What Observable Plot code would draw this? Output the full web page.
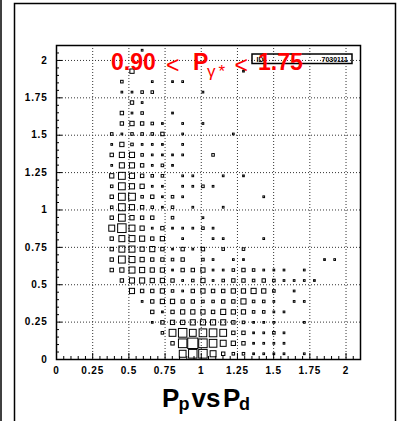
<!DOCTYPE html>
<html><head><meta charset="utf-8">
<script src="https://cdn.jsdelivr.net/npm/d3@7"></script>
<script src="https://cdn.jsdelivr.net/npm/@observablehq/plot@0.6"></script>
<style>
html,body{margin:0;padding:0;background:#fff;}
#chart{position:relative;width:397px;height:421px;overflow:hidden;background:#fff;}
#chart svg{display:block;}
#chart svg g[aria-label="text"] text{letter-spacing:0.8px;}
</style></head><body><div id="chart"></div>
<script>
// bin centres (same binning on both axes, 30 bins of 0.07 from 0 to 2.1)
const binCenters = [0.035,0.105,0.175,0.245,0.315,0.385,0.455,0.525,0.595,0.665,0.735,0.805,0.875,0.945,1.015,
                    1.085,1.155,1.225,1.295,1.365,1.435,1.505,1.575,1.645,1.715,1.785,1.855,1.925,1.995,2.065];
const binWidth = 0.07;
// cell contents (relative), rows listed from top (P_p bin 29) to bottom (bin 0), columns P_d bin 0..29
const counts = [
 [0,0,0,0,0,0,0,0,2,0,0,0,0,0,0,0,0,0,0,0,0,0,0,0,0,0,0,0,0,0],
 [0,0,0,0,0,0,0,0,0,0,0,0,0,0,0,0,0,0,0,0,0,0,0,0,0,0,0,0,0,0],
 [0,0,0,0,0,0,0,5,0,0,0,0,0,0,0,0,0,0,2,0,0,0,0,0,0,0,0,0,0,0],
 [0,0,0,0,0,0,3,0,0,2,0,2,2,0,0,0,0,0,0,0,0,0,0,0,0,0,0,0,0,0],
 [0,0,0,0,0,0,2,2,3,3,0,0,0,0,2,0,0,0,0,0,0,0,0,0,0,0,0,0,0,0],
 [0,0,0,0,0,0,0,4,2,0,0,0,0,0,0,0,0,0,0,0,0,0,0,0,0,0,0,0,0,0],
 [0,0,0,0,0,0,4,2,3,0,0,2,0,0,0,0,0,0,0,0,0,0,0,0,0,0,0,0,0,0],
 [0,0,0,0,0,0,4,5,4,3,2,0,2,0,2,0,0,0,0,0,0,0,0,0,0,0,0,0,0,0],
 [0,0,0,0,0,3,2,3,3,3,4,0,2,0,0,0,0,2,0,0,0,0,0,0,0,0,0,0,0,0],
 [0,0,0,0,0,2,5,3,2,2,2,0,2,0,0,0,0,0,0,0,0,0,0,0,0,0,0,0,0,0],
 [0,0,0,0,0,4,6,6,3,2,2,2,2,0,0,3,0,0,0,0,0,0,0,0,0,0,0,0,0,0],
 [0,0,0,0,0,2,6,6,4,2,3,2,0,0,0,0,0,0,0,0,0,0,0,0,0,0,0,0,0,0],
 [0,0,0,0,0,5,8,6,4,3,3,0,2,2,0,0,2,0,2,0,0,0,0,0,0,0,0,0,0,0],
 [0,0,0,0,0,3,8,6,5,2,2,0,2,2,3,2,0,0,0,0,0,0,0,0,0,0,0,0,0,0],
 [0,0,0,0,0,4,8,8,3,4,2,3,2,0,0,0,0,0,0,0,2,0,0,0,0,0,0,0,0,0],
 [0,0,0,0,0,3,8,6,4,3,2,3,0,2,0,0,2,0,0,0,0,0,0,0,0,0,0,0,0,0],
 [0,0,0,0,0,4,8,5,4,4,0,3,0,0,2,0,0,0,0,0,0,0,0,0,0,0,0,0,0,0],
 [0,0,0,0,0,7,10,7,5,2,4,2,2,2,3,2,0,0,0,0,0,0,0,0,0,0,0,0,0,0],
 [0,0,0,0,0,4,7,7,6,4,5,0,2,0,0,2,2,0,0,0,2,0,0,0,0,0,0,0,0,0],
 [0,0,0,0,0,4,7,7,5,6,4,2,4,2,4,0,3,0,3,0,0,0,0,0,0,0,0,0,0,0],
 [0,0,0,0,0,4,8,7,5,4,4,3,4,0,3,2,0,2,2,0,0,0,0,0,0,0,2,2,0,0],
 [0,0,0,0,0,4,5,7,6,5,5,2,4,4,5,2,2,3,4,3,2,2,2,0,2,0,0,0,0,0],
 [0,0,0,0,0,0,4,6,6,5,5,4,2,3,5,2,3,4,4,3,4,3,2,2,2,2,0,0,0,0],
 [0,0,0,0,0,0,0,6,4,4,5,3,2,4,5,4,4,5,5,6,5,3,0,2,0,0,0,0,0,0],
 [0,0,0,0,0,0,0,0,2,4,5,5,4,4,3,3,4,4,6,3,3,2,0,2,2,0,0,0,0,0],
 [0,0,0,0,0,0,0,0,0,4,2,4,5,5,5,4,6,5,5,3,3,2,2,0,0,0,0,0,0,0],
 [0,0,0,0,0,0,0,0,0,2,4,5,5,6,6,6,6,4,3,2,2,2,0,0,2,0,0,0,0,0],
 [0,0,0,0,0,0,0,0,0,0,3,8,10,8,9,9,8,4,4,2,2,3,2,0,0,0,0,0,0,0],
 [0,0,0,0,0,0,0,0,0,0,0,4,10,12,10,9,7,5,4,2,2,2,2,0,0,0,0,0,0,0],
 [0,0,0,0,0,0,0,0,0,0,0,0,8,10,10,7,4,3,3,2,2,2,2,0,2,0,0,0,0,0]
];
const majorTicks = [0,0.25,0.5,0.75,1,1.25,1.5,1.75,2];
const gridValues = [0.25,0.5,0.75,1,1.25,1.5,1.75,2];
const minorTicks = [0.05,0.1,0.15,0.2,0.3,0.35,0.4,0.45,0.55,0.6,0.65,0.7,0.8,0.85,0.9,0.95,1.05,1.1,1.15,1.2,
                    1.3,1.35,1.4,1.45,1.55,1.6,1.65,1.7,1.8,1.85,1.9,1.95,2.05];

const cells = [];
counts.forEach((row, r) => row.forEach((v, i) => {
  if (v > 0) cells.push({x: binCenters[i], y: binCenters[counts.length - 1 - r], v});
}));
const maxCount = d3.max(cells, d => d.v);
const half = d => d.v / maxCount * binWidth / 2;

const W = 397, H = 421, mL = 56, mR = 37, mT = 45, mB = 62;
const fw = W - mL - mR, fh = H - mT - mB;
const font = "'Liberation Sans', Arial, Helvetica, sans-serif";

const chart = Plot.plot({
  width: W, height: H,
  marginLeft: mL, marginRight: mR, marginTop: mT, marginBottom: mB,
  x: {domain: [0, 2.1], axis: null},
  y: {domain: [0, 2.1], axis: null},
  style: {background: "transparent", fontFamily: font, color: "#000"},
  marks: [
    Plot.ruleX(gridValues, {x: d => d, stroke: "#333", strokeWidth: 1, strokeDasharray: "1,2"}),
    Plot.ruleY(gridValues, {y: d => d, stroke: "#333", strokeWidth: 1, strokeDasharray: "1,2"}),
    Plot.rect(cells, {
      x1: d => d.x - half(d), x2: d => d.x + half(d),
      y1: d => d.y - half(d), y2: d => d.y + half(d),
      fill: "none", stroke: "#000", strokeWidth: 1
    }),
    Plot.ruleX(minorTicks, {x: d => d, insetTop: fh - 3, stroke: "#000"}),
    Plot.ruleX(majorTicks, {x: d => d, insetTop: fh - 6, stroke: "#000"}),
    Plot.ruleY(minorTicks, {y: d => d, insetRight: fw - 3, stroke: "#000"}),
    Plot.ruleY(majorTicks, {y: d => d, insetRight: fw - 6, stroke: "#000"}),
    Plot.frame({stroke: "#000", strokeWidth: 1.5}),
    Plot.text(majorTicks, {x: d => d, frameAnchor: "bottom", lineAnchor: "top", dy: 7,
      text: d => String(d), fontSize: 10, fontWeight: "bold", fill: "#000"}),
    Plot.text(majorTicks, {y: d => d, frameAnchor: "left", textAnchor: "end", dx: -9,
      text: d => String(d), fontSize: 10, fontWeight: "bold", fill: "#000"})
  ]
});
document.getElementById("chart").appendChild(chart);

const svg = d3.select(chart);
// pad borders
svg.append("line").attr("x1", 1).attr("x2", 1).attr("y1", 0).attr("y2", H)
  .attr("stroke", "#000").attr("stroke-width", 1.5);
svg.append("path").attr("d", `M14.5,${H + 5}V3.5H395.5V${H + 5}`)
  .attr("fill", "none").attr("stroke", "#000").attr("stroke-width", 1.5);

// stats box
svg.append("rect").attr("x", 252).attr("y", 54).attr("width", 100).attr("height", 9.5)
  .attr("fill", "none").attr("stroke", "#000").attr("stroke-width", 1.5);
const small = (t, x, anchor) => svg.append("text").attr("x", x).attr("y", 61.5)
  .attr("font-family", font).attr("font-size", 7).attr("font-weight", "bold")
  .attr("text-anchor", anchor).attr("fill", "#000").text(t);
small("ID", 256.5, "start");
small("7030111", 348, "end");

// title
const piece = (t, x, y, size, weight, color) => svg.append("text").attr("x", x).attr("y", y)
  .attr("font-family", font).attr("font-size", size).attr("font-weight", weight)
  .attr("text-anchor", "start").attr("fill", color).style("letter-spacing", "0").text(t);
piece("0.90", 111, 70, 23, "bold", "#f00");
piece("<", 166, 73, 23, "normal", "#f00");
piece("P", 193, 70, 23, "bold", "#f00");
piece("\u03b3", 207, 77, 17, "normal", "#f00");
piece("*", 218.5, 77, 17, "normal", "#f00");
piece("<", 234.5, 73, 23, "normal", "#f00");
piece("1.75", 258, 70, 23, "bold", "#f00");

// x-axis title
piece("P", 162, 407, 26, "bold", "#000");
piece("p", 178.5, 410, 18, "bold", "#000");
piece("vs", 191.5, 407, 26, "bold", "#000");
piece("P", 223, 407, 26, "bold", "#000");
piece("d", 239, 410, 18, "bold", "#000");
</script></body></html>
